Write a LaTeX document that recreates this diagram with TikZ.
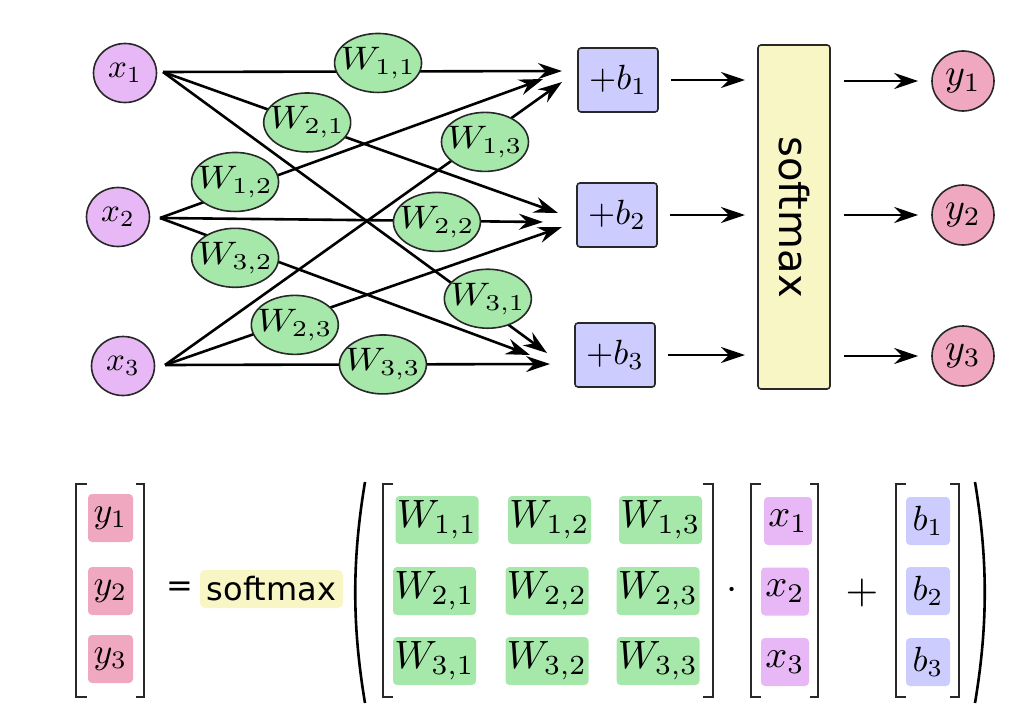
\documentclass[tikz,border=0pt]{standalone}
\usepackage{fontspec}
\newfontfamily\dejavu{DejaVu Sans}
\usetikzlibrary{arrows.meta,shapes.geometric,calc}
\definecolor{xcol}{RGB}{231,184,245}
\definecolor{wcol}{RGB}{166,232,170}
\definecolor{bcol}{RGB}{204,204,255}
\definecolor{smcol}{RGB}{248,246,196}
\definecolor{ycol}{RGB}{240,168,192}
\definecolor{dk}{RGB}{40,40,40}
\newcommand\rsTX[1]{\makebox[0pt]{\scalebox{3.3}{$#1$}}}
\newcommand\rsTW[1]{\makebox[0pt]{\scalebox{3.7}[3.25]{$#1$}}}
\newcommand\rsTB[1]{\scalebox{3.5}{$#1$}}
\newcommand\rsTY[1]{\makebox[0pt]{\scalebox{3.8}{$#1$}}}
\newcommand\rsBW[1]{\scalebox{3.95}{$#1$}}
\newcommand\rsBX[1]{\scalebox{3.85}{$#1$}}
\newcommand\rsBB[1]{\scalebox{3.5}{$#1$}}
\newcommand\rsBY[1]{\scalebox{3.6}{$#1$}}
\tikzset{
 every node/.style={inner sep=0pt, font=\fontsize{10}{12}\selectfont},
 xnode/.style={ellipse, draw=dk, line width=1.6pt, fill=xcol, minimum width=63pt, minimum height=59pt},
 wnode/.style={ellipse, draw=dk, line width=1.6pt, fill=wcol, minimum width=87pt, minimum height=59pt},
 bnode/.style={rectangle, rounded corners=3pt, draw=dk, line width=1.6pt, fill=bcol, minimum width=80pt, minimum height=64pt},
 ynode/.style={ellipse, draw=dk, line width=1.6pt, fill=ycol, minimum width=62pt, minimum height=60pt},
 smnode/.style={rectangle, rounded corners=3pt, draw=dk, line width=1.6pt, fill=smcol, minimum width=344pt, minimum height=72pt, font=\dejavu\fontsize{40}{44}\selectfont},
 conn/.style={line width=2.6pt, -{Stealth[length=24pt,width=16pt,inset=8pt]}},
 mbox/.style={rectangle, rounded corners=4pt, minimum height=48pt},
 wbox/.style={mbox, fill=wcol, minimum width=83pt},
 xbox/.style={mbox, fill=xcol, minimum width=48pt},
 bbox/.style={mbox, fill=bcol, minimum width=44pt},
 ybox/.style={mbox, fill=ycol, minimum width=45pt},
 brk/.style={line width=2pt, draw=dk},
 paren/.style={line width=2.6pt, draw=black},
}
\begin{document}
\begin{tikzpicture}[x=1pt,y=-1pt]
\useasboundingbox (0,0) rectangle (1029,715);
% inputs
\node[xnode] (x1) at (125,73) {\rsTX{x_1}};
\node[xnode] (x2) at (118,217) {\rsTX{x_2}};
\node[xnode] (x3) at (123,366) {\rsTX{x_3}};
\coordinate (s1) at (163,72);
\coordinate (s2) at (160,218);
\coordinate (s3) at (165,365);
% biases
\node[bnode] (b1) at (618,80) {\rsTB{+b_1}};
\node[bnode] (b2) at (617,215) {\rsTB{+b_2}};
\node[bnode] (b3) at (615,355) {\rsTB{+b_3}};
% arrow ends
\coordinate (e11) at (562,71);
\coordinate (e12) at (543,79);
\coordinate (e13) at (562,82);
\coordinate (e21) at (558,213);
\coordinate (e22) at (543,222);
\coordinate (e23) at (562,227);
\coordinate (e31) at (547,353);
\coordinate (e32) at (530,355);
\coordinate (e33) at (550,364);
% weighted connections
\draw[conn] (s1) -- node[wnode, pos=0.539, yshift=8.5pt] (W11) {\rsTW{W_{1,1}}} (e11);
\draw[conn] (s1) -- node[wnode, pos=0.365, yshift=1pt] (W21) {\rsTW{W_{2,1}}} (e21);
\draw[conn] (s1) -- node[wnode, pos=0.846, yshift=11pt] (W31) {\rsTW{W_{3,1}}} (e31);
\draw[conn] (s2) -- node[wnode, pos=0.196, yshift=8.8pt] (W12) {\rsTW{W_{1,2}}} (e12);
\draw[conn] (s2) -- node[wnode, pos=0.723, yshift=-1pt] (W22) {\rsTW{W_{2,2}}} (e22);
\draw[conn] (s2) -- node[wnode, pos=0.203, yshift=-12pt] (W32) {\rsTW{W_{3,2}}} (e32);
\draw[conn] (s3) -- node[wnode, pos=0.806, yshift=-5pt] (W13) {\rsTW{W_{1,3}}} (e13);
\draw[conn] (s3) -- node[wnode, pos=0.327, yshift=-5pt] (W23) {\rsTW{W_{2,3}}} (e23);
\draw[conn] (s3) -- node[wnode, pos=0.566, yshift=0pt] (W33) {\rsTW{W_{3,3}}} (e33);
% softmax
\node[smnode, rotate=-90] (sm) at (794,217) {softmax};
\node[ynode] (y1) at (963,81) {\rsTY{y_1}};
\node[ynode] (y2) at (963,215) {\rsTY{y_2}};
\node[ynode] (y3) at (963,356) {\rsTY{y_3}};
\foreach \i in {1,2,3}{
  \draw[conn, shorten <=12pt, shorten >=49pt] (b\i) -- (b\i -| sm);
  \draw[conn, shorten <=50pt, shorten >=13pt] (y\i -| sm) -- (y\i);
}
% ---- equation ----
\node[ybox] (Y1) at (110.5,518) {\rsBY{y_1}};
\node[ybox] (Y2) at (110.5,591) {\rsBY{y_2}};
\node[ybox] (Y3) at (110.5,659) {\rsBY{y_3}};
\draw[brk] (87,484) -- (76,484) -- (76,697) -- (87,697);
\draw[brk] (136,484) -- (144,484) -- (144,697) -- (136,697);
\node[font=\dejavu\fontsize{32}{36}\selectfont] (eq) at (180,589) {=};
\node[rectangle, rounded corners=5pt, fill=smcol, minimum width=143pt, minimum height=38pt, font=\dejavu\fontsize{32}{36}\selectfont] (SM) at (271.5,589) {softmax};
\draw[paren] (365,482) .. controls (352,560) and (352,625) .. (365,703);
% W matrix
\draw[brk] (393,484) -- (383,484) -- (383,697) -- (393,697);
\draw[brk] (703,484) -- (713,484) -- (713,697) -- (703,697);
\node[wbox] (M11) at (437,520) {\rsBW{W_{1,1}}};
\node[wbox] (M12) at (549.5,520) {\rsBW{W_{1,2}}};
\node[wbox] (M13) at (660.5,520) {\rsBW{W_{1,3}}};
\node[wbox] (M21) at (434.5,591) {\rsBW{W_{2,1}}};
\node[wbox] (M22) at (547,591) {\rsBW{W_{2,2}}};
\node[wbox] (M23) at (658,591) {\rsBW{W_{2,3}}};
\node[wbox] (M31) at (434.5,661) {\rsBW{W_{3,1}}};
\node[wbox] (M32) at (547,661) {\rsBW{W_{3,2}}};
\node[wbox] (M33) at (658,661) {\rsBW{W_{3,3}}};
\node (dot) at (732,591) {\scalebox{4}{$\cdot$}};
% x vector
\draw[brk] (761,484) -- (751,484) -- (751,697) -- (761,697);
\draw[brk] (810,484) -- (818,484) -- (818,697) -- (810,697);
\node[xbox] (X1) at (788,521) {\rsBX{x_1}};
\node[xbox] (X2) at (785,591.5) {\rsBX{x_2}};
\node[xbox] (X3) at (785,662) {\rsBX{x_3}};
\node (plus) at (862,593) {\scalebox{4.2}{$+$}};
% b vector
\draw[brk] (906,484) -- (896,484) -- (896,697) -- (906,697);
\draw[brk] (950,484) -- (959,484) -- (959,697) -- (950,697);
\node[bbox] (B1) at (928,521) {\rsBB{b_1}};
\node[bbox] (B2) at (928,591) {\rsBB{b_2}};
\node[bbox] (B3) at (928,662) {\rsBB{b_3}};
\draw[paren] (975,482) .. controls (988,560) and (988,625) .. (975,703);
\end{tikzpicture}
\end{document}
